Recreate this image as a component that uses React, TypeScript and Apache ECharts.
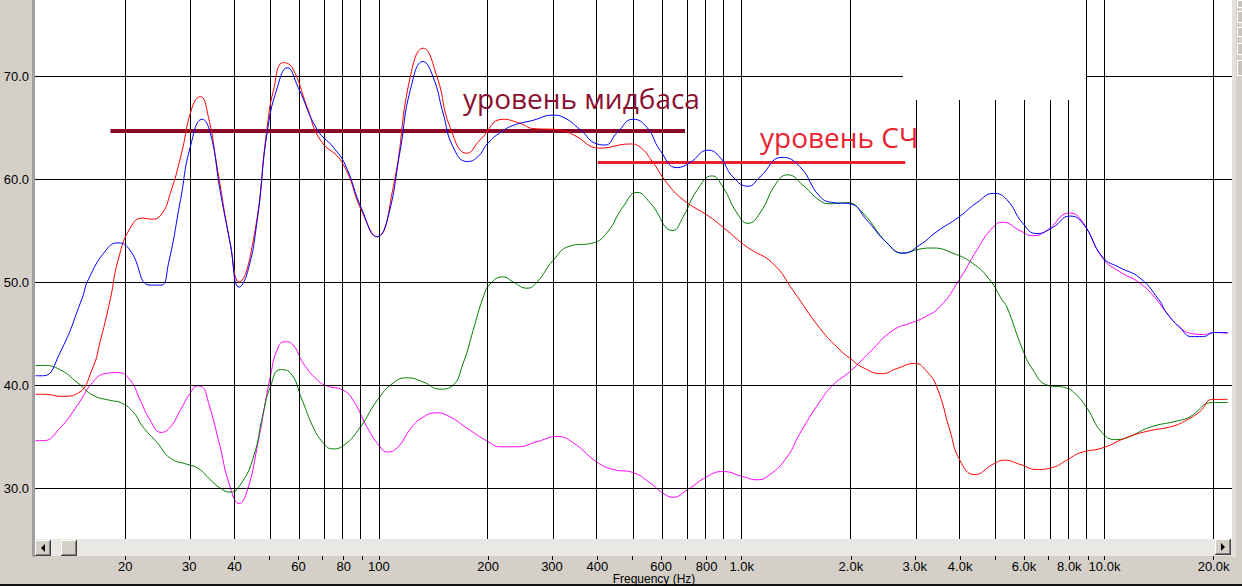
import React, { useEffect, useRef } from "react";
import * as echarts from "echarts";

// Frequency grid (Hz) and labels
const GRID_FREQS = [20, 30, 40, 50, 60, 70, 80, 90, 100, 200, 300, 400, 500, 600, 700, 800, 900, 1000, 2000, 3000, 4000, 5000, 6000, 7000, 8000, 9000, 10000, 20000];
const LABEL_FREQS = [20, 30, 40, 60, 80, 100, 200, 300, 400, 600, 800, 1000, 2000, 3000, 4000, 6000, 8000, 10000, 20000];
const DB_TICKS = [30, 40, 50, 60, 70];

// [frequency Hz, level dB]
const blueSum: [number, number][] = [
  [11.3, 40.9], [11.9, 40.9], [13.2, 43.1], [15.2, 48.4], [15.8, 50.2], [17.7, 53.1], [19.1, 53.8], [20.6, 53.1],
  [23.4, 49.7], [25.1, 49.7], [26.3, 51.8], [28.4, 58.0], [30.2, 63.1], [32.6, 65.8], [34.3, 64.5], [36.5, 58.9],
  [38.9, 53.8], [41.2, 49.5], [43.4, 50.9], [46.2, 56.0], [49.2, 64.5], [52.5, 68.9], [55.9, 70.8], [59.9, 68.9],
  [67.6, 64.8], [74.8, 63.1], [80.7, 61.4], [89.9, 57.0], [98.9, 54.4], [105.4, 56.0], [114.5, 62.8], [122, 68.6],
  [132.4, 71.4], [141.1, 69.9], [150.3, 66.4], [160.2, 63.1], [175.1, 61.7], [186.6, 62.1], [200, 63.5], [215.9, 64.5],
  [234.5, 65.2], [266.1, 65.7], [302.1, 66.2], [321.9, 66.0], [358.5, 64.8], [399.4, 63.4], [420.2, 63.3], [453.5, 64.5],
  [501.8, 65.8], [548.3, 65.0], [595.5, 62.8], [663.3, 61.1], [720.3, 61.6], [807.5, 62.8], [871.2, 62.1], [946.1, 60.2],
  [1041, 59.3], [1123, 60.2], [1291, 62.1], [1447, 61.2], [1643, 58.3], [1800, 57.7], [1987, 57.6], [2214, 56.0],
  [2513, 53.8], [2782, 52.8], [3099, 53.6], [3452, 54.9], [3967, 56.3], [4448, 57.7], [4954, 58.6], [5379, 58.0],
  [5954, 55.7], [6505, 54.7], [7204, 55.3], [8022, 56.4], [8712, 55.7], [9890, 52.4], [11020, 51.4], [12510, 50.4],
  [14110, 48.3], [14840, 47.0], [16120, 45.6], [17390, 44.7], [18650, 44.7], [20120, 45.1], [21860, 45.1],
];

const redWoofer: [number, number][] = [
  [11.3, 39.1], [11.9, 39.1], [13.4, 38.9], [14.8, 39.2], [16.2, 41.5], [17.1, 44.4], [18.2, 48.4], [19.1, 52.1],
  [20.6, 55.2], [22.3, 56.2], [23.7, 56.1], [25.3, 56.7], [26.6, 58.6], [28.4, 62.1], [30.6, 67.0], [32.2, 68.0],
  [33.9, 66.0], [35.8, 61.2], [38.9, 53.8], [41.2, 50.0], [45.1, 54.1], [49.2, 65.0], [51.2, 68.6], [54.5, 71.3],
  [57.7, 70.8], [63.4, 67.0], [68.9, 63.8], [79.2, 61.6], [89.9, 56.8], [98.9, 54.4], [109.5, 59.2], [122, 69.9],
  [132.4, 72.7], [144.7, 69.9], [157.2, 65.0], [175.1, 62.5], [190.1, 63.8], [220, 65.8], [245, 65.4], [266.1, 64.9],
  [309.9, 64.8], [343, 64.3], [407.1, 63.0], [492.4, 63.4], [524.6, 63.1], [569.6, 61.6], [622.5, 59.6], [689, 58.0],
  [817.8, 56.3], [910.8, 55.0], [1034, 53.4], [1219, 51.8], [1384, 49.2], [1643, 45.5], [1866, 43.4], [1987, 42.6],
  [2158, 41.7], [2434, 41.1], [2677, 41.6], [3002, 42.1], [3239, 41.3], [3452, 39.8], [3748, 35.6], [3993, 32.7],
  [4392, 31.3], [4923, 32.3], [5311, 32.7], [5842, 32.3], [6505, 31.8], [7204, 32.0], [7870, 32.7], [8549, 33.4],
  [9890, 33.9], [11510, 34.9], [13080, 35.5], [15420, 36.0], [16850, 36.6], [18300, 37.4], [19870, 38.6], [21860, 38.6],
];

const greenMid: [number, number][] = [
  [11.3, 41.9], [11.9, 41.9], [13.2, 41.5], [14.8, 40.2], [16.3, 39.0], [18.2, 38.5], [19.4, 38.3], [21.0, 37.4],
  [22.4, 35.9], [24.5, 34.4], [26.6, 32.9], [29.6, 32.3], [31.8, 31.9], [34.3, 30.8], [36.5, 30.0], [38.9, 29.6],
  [41.5, 30.3], [45.1, 33.0], [48.0, 37.3], [50.2, 39.8], [53.5, 41.5], [56.9, 41.2], [61.5, 38.5], [65.9, 35.9],
  [70.2, 34.4], [74.3, 33.8], [79.7, 34.1], [88.8, 35.9], [98.9, 38.5], [109.5, 40.2], [119.7, 40.7], [132.4, 40.3],
  [147.5, 39.6], [159.2, 39.9], [170.7, 42.1], [181.9, 45.3], [193.8, 48.5], [202.5, 49.8], [220, 50.5], [234.5, 50.0],
  [256.2, 49.4], [272.9, 50.0], [302.1, 52.1], [336.5, 53.5], [389.4, 53.8], [425.6, 54.8], [471, 57.3], [514.7, 58.7],
  [558.9, 57.7], [646.6, 55.0], [689, 56.3], [753.1, 58.9], [828.2, 60.3], [888, 59.2], [970.5, 56.7], [1041, 55.7],
  [1123, 56.7], [1251, 59.7], [1341, 60.4], [1475, 59.4], [1643, 57.9], [1751, 57.6], [1950, 57.7], [2158, 56.7],
  [2513, 53.8], [2782, 52.8], [3099, 53.2], [3365, 53.3], [3820, 52.8], [4337, 51.8], [4830, 50.2], [5212, 48.3],
  [5379, 47.6], [5954, 43.4], [6342, 41.5], [6935, 40.0], [7870, 39.7], [8387, 39.0], [8935, 37.8], [9890, 35.3],
  [10810, 34.7], [11740, 35.0], [13330, 35.9], [15820, 36.5], [17170, 36.9], [19870, 38.3], [21860, 38.3],
];

const magentaTweeter: [number, number][] = [
  [11.3, 34.6], [11.9, 34.6], [13.2, 35.8], [14.8, 38.1], [16.2, 40.2], [17.6, 41.1], [19.1, 41.2], [20.6, 40.5],
  [22.0, 38.5], [23.4, 36.6], [25.1, 35.4], [26.6, 35.9], [28.4, 37.6], [30.2, 39.2], [31.6, 39.9], [32.6, 39.8],
  [33.9, 38.3], [36.1, 34.7], [38.9, 30.1], [41.2, 28.5], [43.4, 29.8], [46.2, 34.0], [50.2, 40.8], [52.8, 43.7],
  [55.2, 44.2], [58.0, 43.9], [61.9, 42.1], [67.6, 40.5], [72.0, 39.9], [79.7, 39.5], [85.0, 38.5], [92.8, 35.9],
  [100.8, 34.0], [105.4, 33.5], [112.3, 33.9], [122, 35.7], [130, 36.7], [144.7, 37.3], [157.2, 36.9], [175.1, 35.8],
  [200, 34.5], [215.9, 34.0], [240.4, 34.0], [272.9, 34.5], [309.9, 35.0], [343, 34.4], [399.4, 32.5], [442.1, 31.8],
  [501.8, 31.5], [558.9, 30.5], [607, 29.5], [646.6, 29.1], [706.7, 29.8], [802.5, 31.1], [888, 31.6], [1008, 31.1],
  [1102, 30.8], [1196, 31.3], [1333, 33.0], [1447, 35.3], [1643, 38.4], [1785, 40.0], [1987, 41.3], [2256, 43.2],
  [2610, 45.3], [2964, 46.1], [3158, 46.5], [3518, 47.6], [3993, 50.3], [4448, 53.1], [4923, 55.3], [5244, 55.8],
  [5842, 55.0], [6342, 54.5], [6935, 55.0], [8022, 56.7], [8712, 55.8], [9890, 52.3], [11020, 51.0], [12510, 49.9],
  [13760, 48.5], [14840, 47.0], [16120, 45.6], [17390, 45.0], [18650, 44.9], [20120, 45.1], [21860, 45.0],
];

// Annotated levels: [from Hz, to Hz, dB]
const MIDBASS_LEVEL: [number, number, number] = [18.2, 698, 64.66];
const MID_LEVEL: [number, number, number] = [401, 2822, 61.6];
const MIDBASS_TEXT = "уровень мидбаса";
const MID_TEXT = "уровень СЧ";

const X_MIN = 1.05213;
const X_MAX = 4.35147;
const Y_MIN = 25.049;
const Y_MAX = 77.379;

const lg = (f: number) => Math.log10(f);
const fmtFreq = (v: number) => {
  const f = Math.round(Math.pow(10, v));
  return f < 1000 ? String(f) : (f / 1000).toFixed(1) + "k";
};

const FONT = "Liberation Sans, Arial, sans-serif";

function curve(name: string, pts: [number, number][], color: string, z: number) {
  return {
    name,
    type: "line",
    data: pts.map(([f, v]) => [lg(f), v]),
    smooth: 0.5,
    symbol: "none",
    showSymbol: false,
    silent: true,
    lineStyle: { color, width: 1 },
    z,
  };
}

export default function App() {
  const ref = useRef<HTMLDivElement>(null);
  useEffect(() => {
    if (!ref.current) return;
    const chart = echarts.init(ref.current, undefined, { renderer: "svg" });
    const btn = (x: number, y: number, w: number, h: number) => [
      { type: "rect", shape: { x, y, width: w, height: h }, style: { fill: "#404040" }, z: 60 },
      { type: "rect", shape: { x, y, width: w - 1, height: h - 1 }, style: { fill: "#ffffff" }, z: 61 },
      { type: "rect", shape: { x: x + 1, y: y + 1, width: w - 2, height: h - 2 }, style: { fill: "#808080" }, z: 62 },
      { type: "rect", shape: { x: x + 1, y: y + 1, width: w - 3, height: h - 3 }, style: { fill: "#d4d0c8" }, z: 63 },
    ];
    const option: any = {
      animation: false,
      backgroundColor: "#d4d0c8",
      grid: { left: 35, top: 0, right: 10, bottom: 47, show: true, backgroundColor: "#ffffff", borderWidth: 0 },
      xAxis: [
        {
          type: "value", min: X_MIN, max: X_MAX,
          axisLine: { show: false }, axisTick: { show: false }, axisLabel: { show: false }, splitLine: { show: false },
        },
        {
          type: "value", min: X_MIN, max: X_MAX, position: "bottom", offset: 17,
          axisLine: { show: false },
          axisTick: { show: true, customValues: GRID_FREQS.map(lg), length: 4, lineStyle: { color: "#000", width: 1 } },
          axisLabel: {
            show: true, customValues: LABEL_FREQS.map(lg), formatter: (v: number) => fmtFreq(v),
            margin: 5, fontSize: 13, lineHeight: 11, color: "#000", fontFamily: FONT,
          },
          splitLine: { show: false },
        },
      ],
      yAxis: {
        type: "value", min: Y_MIN, max: Y_MAX,
        axisLine: { show: false }, axisTick: { show: false }, splitLine: { show: false },
        axisLabel: {
          customValues: DB_TICKS, formatter: (v: number) => v.toFixed(1),
          margin: 6, fontSize: 13, color: "#000", fontFamily: FONT,
        },
      },
      series: [
        {
          type: "line", data: [], silent: true, z: 1, symbol: "none",
          markLine: {
            silent: true, symbol: ["none", "none"], label: { show: false }, animation: false,
            lineStyle: { color: "#000", width: 1, type: "solid" },
            emphasis: { disabled: true },
            data: [
              ...GRID_FREQS.map((f) => ({ xAxis: lg(f) })),
              ...DB_TICKS.map((v) => ({ yAxis: v })),
            ],
          },
        },
        curve("tweeter", magentaTweeter, "#ff00ff", 3),
        curve("mid", greenMid, "#008000", 4),
        curve("woofer", redWoofer, "#ff0000", 5),
        curve("sum", blueSum, "#0000ff", 6),
        {
          type: "line", data: [], silent: true, z: 10, symbol: "none",
          markLine: {
            silent: true, symbol: ["none", "none"], label: { show: false }, animation: false,
            emphasis: { disabled: true },
            data: [
              [
                { coord: [lg(MIDBASS_LEVEL[0]), MIDBASS_LEVEL[2]], lineStyle: { color: "#8a0a28", width: 4, type: "solid" } },
                { coord: [lg(MIDBASS_LEVEL[1]), MIDBASS_LEVEL[2]] },
              ],
              [
                { coord: [lg(MID_LEVEL[0]), MID_LEVEL[2]], lineStyle: { color: "#e8202a", width: 3, type: "solid" } },
                { coord: [lg(MID_LEVEL[1]), MID_LEVEL[2]] },
              ],
            ],
          },
        },
      ],
      graphic: [
        { type: "rect", shape: { x: 903, y: 0, width: 183, height: 100 }, style: { fill: "#ffffff" }, z: 50, silent: true },
        { type: "rect", shape: { x: 32, y: 0, width: 3, height: 557 }, style: { fill: "#a0a0a0" }, z: 50 },
        { type: "rect", shape: { x: 35, y: 539, width: 1197, height: 17 }, style: { fill: "#eae8e4" }, z: 50 },
        ...btn(35, 540, 16, 16),
        { type: "polygon", shape: { points: [[45, 544], [45, 552], [41, 548]] }, style: { fill: "#000" }, z: 70 },
        ...btn(61, 540, 16, 16),
        ...btn(1215, 539, 16, 16),
        { type: "polygon", shape: { points: [[1221, 543], [1221, 551], [1225, 547]] }, style: { fill: "#000" }, z: 70 },
        { type: "rect", shape: { x: 1232, y: 0, width: 4, height: 557 }, style: { fill: "#e2e0dc" }, z: 50 },
        ...[[0, 8], [11, 23], [27, 37], [43, 55], [60, 76]].flatMap(([a, b]) => [
          { type: "rect", shape: { x: 1237, y: a, width: 5, height: b - a }, style: { fill: "#ffffff" }, z: 55 },
          { type: "rect", shape: { x: 1238, y: a + 1, width: 4, height: b - a - 2 }, style: { fill: "#c8c4bc" }, z: 56 },
        ]),
        { type: "rect", shape: { x: 0, y: 584, width: 1242, height: 2 }, style: { fill: "#111" }, z: 50 },
        {
          type: "text", x: 654, y: 579, z: 70,
          style: { text: "Frequency (Hz)", fill: "#000", font: "12px " + FONT, lineHeight: 11, align: "center", verticalAlign: "middle" },
        },
        {
          type: "text", x: 463, y: 98, z: 70,
          style: { text: MIDBASS_TEXT, fill: "#8b1030", font: "28px 'Open Sans', 'Noto Sans', sans-serif", align: "left", verticalAlign: "middle" },
        },
        {
          type: "text", x: 760, y: 137, z: 70,
          style: { text: MID_TEXT, fill: "#e8232e", font: "28px 'Open Sans', 'Noto Sans', sans-serif", align: "left", verticalAlign: "middle" },
        },
      ],
    };
    chart.setOption(option);
    return () => chart.dispose();
  }, []);
  return <div ref={ref} style={{ position: "fixed", left: 0, top: 0, width: 1242, height: 586 }} />;
}
